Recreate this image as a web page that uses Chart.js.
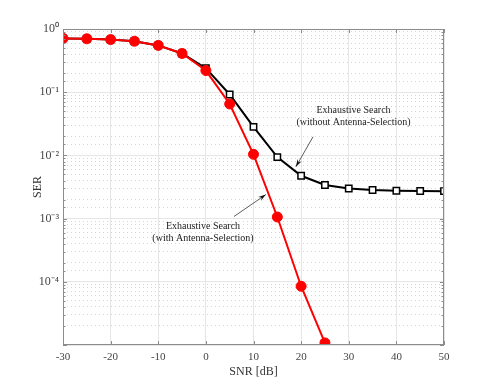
<!DOCTYPE html>
<html>
<head>
<meta charset="utf-8">
<script src="https://cdn.jsdelivr.net/npm/chart.js@4.4.1/dist/chart.umd.min.js"></script>
<style>
  html, body { margin: 0; padding: 0; background: #fff; }
  #wrap { width: 491px; height: 389px; }
</style>
</head>
<body>
<div id="wrap"><canvas id="chart" width="491" height="389"></canvas></div>
<script>
'use strict';

// SNR in dB
const snrWithAS = [-30, -25, -20, -15, -10, -5, 0, 5, 10, 15, 20, 25];
const serWithAS = [0.71, 0.70, 0.68, 0.64, 0.55, 0.41, 0.22, 0.065, 0.0104, 0.00106, 8.5e-5, 1.08e-5];

const snrNoAS = [-30, -25, -20, -15, -10, -5, 0, 5, 10, 15, 20, 25, 30, 35, 40, 45, 50];
const serNoAS = [0.71, 0.70, 0.68, 0.64, 0.55, 0.41, 0.24, 0.092, 0.0283, 0.0094, 0.00476, 0.0034, 0.0030, 0.00283, 0.00276, 0.00273, 0.00272];

const xTicks = [-30, -20, -10, 0, 10, 20, 30, 40, 50];

// text notes, placed in data units
const notes = [
  { lines: ['Exhaustive Search', '(without Antenna-Selection)'], x: 31, y: 0.0525,
    from: [22.5, 0.0197], to: [18.9, 0.0066] },
  { lines: ['Exhaustive Search', '(with Antenna-Selection)'], x: -0.6, y: 0.00074,
    from: [5.9, 0.00108], to: [12.6, 0.0024] }
];

const serif = '"Liberation Serif", "Times New Roman", serif';
const sup = { '-': '\u207B', '0': '\u2070', '1': '\u00B9', '2': '\u00B2', '3': '\u00B3', '4': '\u2074', '5': '\u2075' };

function isDecade(v) {
  const e = Math.log10(v);
  return Math.abs(e - Math.round(e)) < 1e-6;
}

// inner tick marks, box and the notes
const decorPlugin = {
  id: 'decor',
  afterDraw(chart) {
    const ctx = chart.ctx;
    const a = chart.chartArea;
    const xs = chart.scales.x, ys = chart.scales.y;
    ctx.save();
    ctx.strokeStyle = '#8c8c8c';
    ctx.lineWidth = 1;
    ctx.strokeRect(a.left + 0.5, a.top + 0.5, a.right - a.left - 1, a.bottom - a.top - 1);
    ctx.beginPath();
    xTicks.forEach(v => {
      const px = Math.round(xs.getPixelForValue(v)) + 0.5;
      ctx.moveTo(px, a.bottom); ctx.lineTo(px, a.bottom - 4);
      ctx.moveTo(px, a.top); ctx.lineTo(px, a.top + 4);
    });
    ys.ticks.forEach(t => {
      const py = Math.round(ys.getPixelForValue(t.value)) + 0.5;
      const len = isDecade(t.value) ? 4 : 2.5;
      ctx.moveTo(a.left, py); ctx.lineTo(a.left + len, py);
      ctx.moveTo(a.right, py); ctx.lineTo(a.right - len, py);
    });
    ctx.stroke();

    ctx.fillStyle = '#222';
    ctx.font = '10px ' + serif;
    ctx.textAlign = 'center';
    ctx.textBaseline = 'middle';
    notes.forEach(n => {
      const cx = xs.getPixelForValue(n.x), cy = ys.getPixelForValue(n.y);
      n.lines.forEach((s, i) => ctx.fillText(s, cx, cy + i * 12));
      const x0 = xs.getPixelForValue(n.from[0]), y0 = ys.getPixelForValue(n.from[1]);
      const x1 = xs.getPixelForValue(n.to[0]), y1 = ys.getPixelForValue(n.to[1]);
      ctx.strokeStyle = '#333';
      ctx.lineWidth = 0.8;
      ctx.beginPath();
      ctx.moveTo(x0, y0); ctx.lineTo(x1, y1);
      ctx.stroke();
      const ang = Math.atan2(y1 - y0, x1 - x0);
      ctx.fillStyle = '#111';
      ctx.beginPath();
      ctx.moveTo(x1, y1);
      ctx.lineTo(x1 - 8 * Math.cos(ang - 0.3), y1 - 8 * Math.sin(ang - 0.3));
      ctx.lineTo(x1 - 5 * Math.cos(ang), y1 - 5 * Math.sin(ang));
      ctx.lineTo(x1 - 8 * Math.cos(ang + 0.3), y1 - 8 * Math.sin(ang + 0.3));
      ctx.closePath();
      ctx.fill();
      ctx.fillStyle = '#222';
    });
    ctx.restore();
  }
};

// first dataset is painted last, so the red curve sits on top
const chartData = {
  datasets: [
    {
      label: 'Exhaustive Search (with Antenna-Selection)',
      data: snrWithAS.map((x, i) => ({ x: x, y: serWithAS[i] })),
      borderColor: '#ff0000',
      backgroundColor: '#ff0000',
      borderWidth: 2,
      pointStyle: 'circle',
      pointRadius: 5,
      pointBorderWidth: 1,
      pointBackgroundColor: '#ff0000'
    },
    {
      label: 'Exhaustive Search (without Antenna-Selection)',
      data: snrNoAS.map((x, i) => ({ x: x, y: serNoAS[i] })),
      borderColor: '#000',
      backgroundColor: '#fff',
      borderWidth: 2,
      pointStyle: 'rect',
      pointRadius: 4.5,
      pointBorderWidth: 1.5,
      pointBorderColor: '#000',
      pointBackgroundColor: '#fff'
    }
  ]
};

const chartConfig = {
  type: 'line',
  data: chartData,
  options: {
    responsive: false,
    animation: false,
    layout: { padding: { top: 29, right: 47, left: 0, bottom: 0 } },
    plugins: { legend: { display: false }, tooltip: { enabled: false } },
    scales: {
      x: {
        type: 'linear',
        min: -30,
        max: 50,
        afterFit: s => { s.height = 44; },
        afterBuildTicks: s => { s.ticks = xTicks.map(v => ({ value: v })); },
        ticks: { color: '#444', font: { family: serif, size: 11 }, padding: 6 },
        grid: { color: '#e6e6e6', drawTicks: false },
        border: { display: false },
        title: { display: true, text: 'SNR [dB]', color: '#333', font: { family: serif, size: 12 }, padding: { top: 0, bottom: 10 } }
      },
      y: {
        type: 'logarithmic',
        min: 1e-5,
        max: 1,
        afterFit: s => { s.width = 63; },
        ticks: {
          color: '#444',
          font: { family: serif, size: 12 },
          padding: 4,
          autoSkip: false,
          callback: v => {
            if (!isDecade(v) || v < 2e-5) return '';
            const e = String(Math.round(Math.log10(v)));
            return '10' + e.split('').map(c => sup[c]).join('');
          }
        },
        grid: { color: c => (c.tick && isDecade(c.tick.value) ? '#e6e6e6' : 'rgba(0,0,0,0)'), drawTicks: false },
        border: { display: false },
        title: { display: true, text: 'SER', color: '#333', font: { family: serif, size: 12 }, padding: { top: 31, bottom: 0 } }
      },
      yMinor: {
        type: 'logarithmic',
        position: 'right',
        min: 1e-5,
        max: 1,
        afterFit: s => { s.width = 0; },
        ticks: { display: false },
        grid: { color: c => (c.tick && isDecade(c.tick.value) ? 'rgba(0,0,0,0)' : '#d6d6d6'), drawTicks: false },
        border: { display: false, dash: [1, 3] }
      }
    }
  },
  plugins: [decorPlugin]
};

const myChart = new Chart(document.getElementById('chart'), chartConfig);
</script>
</body>
</html>
